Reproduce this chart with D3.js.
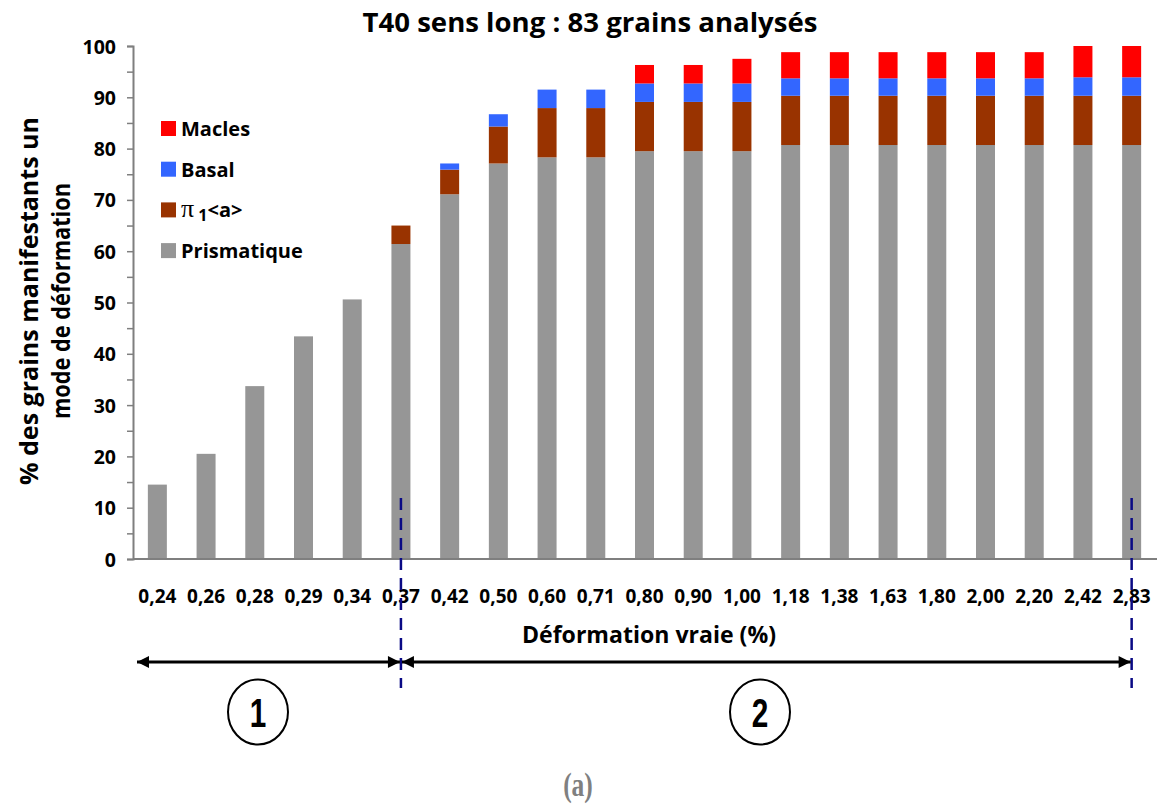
<!DOCTYPE html>
<html><head><meta charset="utf-8">
<script src="https://cdn.jsdelivr.net/npm/d3@7"></script>
<style>
html,body{margin:0;padding:0;background:#fff;}
svg{display:block;}
text{font-family:"Open Sans",sans-serif;font-weight:700;fill:#000;}
</style></head>
<body>
<svg id="c" width="1157" height="805"></svg>
<script>
const categories = ["0,24","0,26","0,28","0,29","0,34","0,37","0,42","0,50","0,60","0,71","0,80","0,90","1,00","1,18","1,38","1,63","1,80","2,00","2,20","2,42","2,83"];
const prismatique = [14.5,20.5,33.7,43.4,50.6,61.4,71.1,77.1,78.3,78.3,79.5,79.5,79.5,80.7,80.7,80.7,80.7,80.7,80.7,80.7,80.7];
const pi1 =         [0,0,0,0,0,3.6,4.8,7.2,9.6,9.6,9.6,9.6,9.6,9.6,9.6,9.6,9.6,9.6,9.6,9.6,9.6];
const basal =       [0,0,0,0,0,0,1.2,2.4,3.6,3.6,3.6,3.6,3.6,3.4,3.4,3.4,3.4,3.4,3.4,3.6,3.6];
const macles =      [0,0,0,0,0,0,0,0,0,0,3.6,3.6,4.8,5.1,5.1,5.1,5.1,5.1,5.1,6.1,6.1];
const seriesNames = ["Prismatique","π1<a>","Basal","Macles"];
const seriesColors = ["#969696","#993300","#3366FF","#FF0000"];
const yTicks = [0,10,20,30,40,50,60,70,80,90,100];
const title = "T40 sens long : 83 grains analysés";
const xTitle = "Déformation vraie (%)";
const yTitleLines = ["% des grains manifestants un","mode de déformation"];
const zoneBounds = ["0,37","2,83"];

const svg = d3.select("#c");
const x = d3.scaleBand().domain(categories).range([133,1156]).paddingInner(0.61).paddingOuter(0.305);
const y = d3.scaleLinear().domain([0,100]).range([559,46]);

const rows = categories.map((c,i)=>({cat:c, Prismatique:prismatique[i], "π1<a>":pi1[i], Basal:basal[i], Macles:macles[i]}));
const stack = d3.stack().keys(seriesNames)(rows);

svg.append("g").selectAll("g").data(stack).join("g")
  .attr("fill",(d,i)=>seriesColors[i])
  .selectAll("rect").data(d=>d.filter(p=>p[1]-p[0]>0)).join("rect")
  .attr("x",d=>x(d.data.cat)).attr("width",x.bandwidth())
  .attr("y",d=>y(d[1])).attr("height",d=>y(d[0])-y(d[1]));

// y axis
const yAxis = svg.append("g").attr("transform","translate(133,0)")
  .call(d3.axisLeft(y).tickValues(d3.range(0,101,5)).tickSize(6).tickFormat(d=>yTicks.includes(d)?d:""));
yAxis.select(".domain").attr("stroke","#7f7f7f").attr("stroke-width",2);
yAxis.selectAll(".tick line").attr("stroke","#7f7f7f").attr("stroke-width",1.5);
yAxis.selectAll(".tick text").attr("x",-17).attr("dy","0.36em").style("font-size","19.5px").style("font-family","'Open Sans'").style("font-weight","700").attr("fill","#000");

// x axis
const xAxis = svg.append("g").attr("transform","translate(0,559)")
  .call(d3.axisBottom(x).tickSize(0).tickPadding(30));
xAxis.select(".domain").attr("d","M133,0H1157").attr("stroke","#7f7f7f").attr("stroke-width",2);
xAxis.selectAll(".tick text").attr("dy","0.75em").style("font-size","19px").style("font-family","'Open Sans'").style("font-weight","700").attr("fill","#000");

// titles
svg.append("text").attr("x",590).attr("y",32).attr("text-anchor","middle").attr("textLength",455).attr("lengthAdjust","spacingAndGlyphs").style("font-size","27px").text(title);
svg.append("text").attr("x",649).attr("y",643).attr("text-anchor","middle").attr("textLength",254).attr("lengthAdjust","spacingAndGlyphs").style("font-size","23.5px").text(xTitle);
const yTitleLen = [368,236];
yTitleLines.forEach((t,i)=>{
  svg.append("text").attr("transform",`translate(${38+i*32},301) rotate(-90)`).attr("text-anchor","middle")
    .attr("textLength",yTitleLen[i]).attr("lengthAdjust","spacingAndGlyphs").style("font-size","25px").text(t);
});

// legend
const legendOrder = [3,2,1,0];
const lg = svg.append("g");
legendOrder.forEach((si,k)=>{
  const yy = 121 + k*40.7;
  lg.append("rect").attr("x",161).attr("y",yy).attr("width",15).attr("height",15).attr("fill",seriesColors[si]);
  const t = lg.append("text").attr("x",181).attr("y",yy+15).style("font-size","20px");
  if(seriesNames[si]==="π1<a>"){
    t.append("tspan").text("π").style("font-family","'Liberation Serif',serif").style("font-size","26px").style("font-weight","400");
    t.append("tspan").text(" 1").attr("dy",4).style("font-size","16px");
    t.append("tspan").text("<a>").attr("dy",-4);
  } else t.text(seriesNames[si]);
});

// dashed boundary lines
zoneBounds.forEach(c=>{
  const xx = x(c)+x.bandwidth()/2;
  svg.append("line").attr("x1",xx).attr("x2",xx).attr("y1",498).attr("y2",688)
    .attr("stroke","#0a0a85").attr("stroke-width",2.5).attr("stroke-dasharray","12,8");
});

// arrows
const defs = svg.append("defs");
defs.append("marker").attr("id","ah").attr("viewBox","0 0 10 10").attr("refX",10).attr("refY",5)
  .attr("markerWidth",4.5).attr("markerHeight",4).attr("markerUnits","strokeWidth").attr("orient","auto-start-reverse")
  .append("path").attr("d","M0,0L10,5L0,10z").attr("fill","#000");
const xA = x(zoneBounds[0])+x.bandwidth()/2, xB = x(zoneBounds[1])+x.bandwidth()/2;
[[137,xA-1],[xA+1,xB-1]].forEach(([a,b])=>{
  svg.append("line").attr("x1",a).attr("x2",b).attr("y1",662).attr("y2",662)
    .attr("stroke","#000").attr("stroke-width",3)
    .attr("marker-start","url(#ah)").attr("marker-end","url(#ah)");
});
// zone circles
[[258,"1"],[760,"2"]].forEach(([cx,l])=>{
  svg.append("ellipse").attr("cx",cx).attr("cy",712).attr("rx",30).attr("ry",32.5).attr("fill","#fff").attr("stroke","#000").attr("stroke-width",2);
  svg.append("text").attr("transform",`translate(${cx},727) scale(0.85,1.15)`).attr("text-anchor","middle")
    .style("font-family","'Liberation Sans Narrow','Liberation Sans',sans-serif").style("font-size","35px").style("font-weight","700").text(l);
});
svg.append("text").attr("transform","translate(578,796) scale(0.85,1.15)").attr("text-anchor","middle")
  .style("font-family","'Liberation Serif',serif").style("font-size","30px").style("font-weight","700").style("fill","#808080").text("(a)");
</script>
</body></html>
